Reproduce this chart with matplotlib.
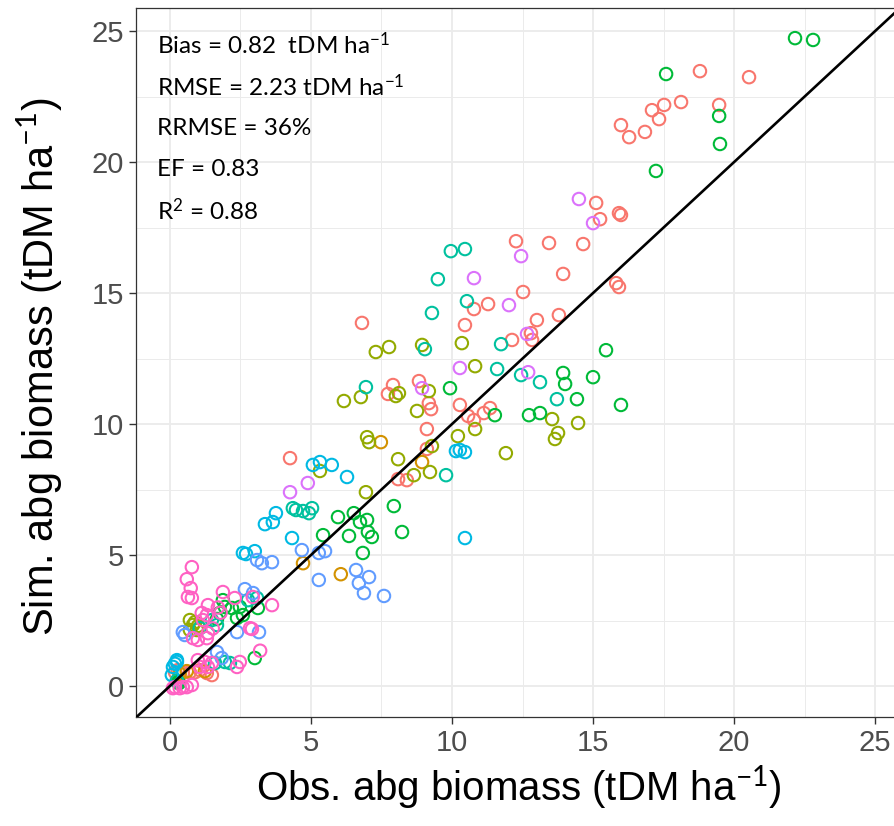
import matplotlib
matplotlib.use("Agg")
import matplotlib.pyplot as plt
from matplotlib.ticker import MultipleLocator

# observed / simulated biomass per group (tDM/ha)
red_x = [18.79, 20.53, 18.12, 17.52, 17.09, 17.34, 15.99, 16.28, 16.84, 19.47, 15.11, 15.25, 15.92, 15.99,
         12.27, 13.44, 14.65, 13.94, 15.82, 15.92, 12.52, 11.28, 10.78, 10.46, 13.01, 13.79, 12.80, 12.84, 12.13,
         8.83, 9.18, 9.26, 10.28, 10.57, 10.78, 11.13, 11.35, 9.11, 9.11, 7.91, 7.73, 6.81, 4.26, 8.09, 8.40,
         0.18, 0.28, 0.46, 0.71, 0.89, 1.06, 1.31, 1.49]
red_y = [23.47, 23.24, 22.29, 22.18, 21.98, 21.64, 21.41, 20.95, 21.15, 22.18, 18.44, 17.82, 18.05, 17.98,
         16.98, 16.91, 16.87, 15.73, 15.38, 15.23, 15.04, 14.58, 14.39, 13.78, 13.97, 14.16, 13.47, 13.21, 13.21,
         11.64, 10.80, 10.57, 10.73, 10.31, 10.15, 10.42, 10.61, 9.81, 9.05, 11.49, 11.15, 13.86, 8.70, 7.90, 7.86,
         0.53, 0.61, 0.50, 0.53, 0.53, 0.61, 0.50, 0.42]

orange_x = [8.94, 7.48, 4.72, 6.06, 0.35, 0.60, 1.24]
orange_y = [8.55, 9.31, 4.69, 4.27, 0.46, 0.57, 0.57]

olive_x = [8.94, 10.35, 10.82, 9.18, 8.76, 13.55, 14.47, 13.76, 13.65, 10.82, 10.21, 9.29, 11.91, 9.22, 8.65,
           7.30, 7.77, 8.01, 8.12, 6.17, 6.77, 6.99, 7.06, 8.09, 5.32, 6.95,
           0.71, 0.82, 0.71, 0.96, 0.89, 1.00]
olive_y = [13.02, 13.09, 12.21, 11.26, 10.50, 10.19, 10.04, 9.66, 9.43, 9.81, 9.54, 9.16, 8.89, 8.17, 8.05,
           12.75, 12.94, 11.07, 11.18, 10.88, 11.03, 9.50, 9.31, 8.66, 8.21, 7.40,
           2.52, 2.33, 2.14, 2.14, 2.44, 2.30]

green_x = [17.59, 19.47, 19.50, 17.23, 22.16, 22.80, 15.46, 13.94, 14.01, 15.00, 14.43, 15.99, 9.93, 11.52, 12.73, 13.12,
           7.94, 8.23, 5.96, 6.52, 6.74, 6.99, 5.43, 6.35, 7.02, 7.16, 6.84,
           1.88, 1.95, 1.77, 1.67, 2.20, 2.48, 2.38, 2.59, 3.12, 3.01, 0.28, 0.32]
green_y = [23.36, 21.76, 20.69, 19.66, 24.73, 24.66, 12.82, 11.95, 11.53, 11.79, 10.95, 10.73, 11.37, 10.34, 10.34, 10.42,
           6.87, 5.88, 6.45, 6.60, 6.26, 6.34, 5.76, 5.73, 5.88, 5.69, 5.08,
           3.28, 3.02, 2.79, 2.56, 2.98, 3.02, 2.60, 2.71, 2.98, 1.07, 0.15, 0.11]

teal_x = [9.96, 10.46, 9.50, 10.53, 9.29, 9.04, 11.74, 11.60, 12.45, 13.12, 13.72, 9.79, 6.95,
          4.36, 4.47, 4.72, 4.93, 5.04,
          1.60, 1.95, 2.13, 1.49, 1.67, 1.06, 2.77, 3.09, 0.25]
teal_y = [16.60, 16.68, 15.53, 14.69, 14.24, 12.86, 13.05, 12.10, 11.87, 11.60, 10.95, 8.05, 11.41,
          6.79, 6.72, 6.68, 6.60, 6.79,
          0.88, 0.92, 0.88, 2.52, 2.33, 2.21, 3.28, 3.36, 0.21]

cyan_x = [10.14, 10.28, 10.46, 5.07, 5.32, 5.74, 6.28, 4.33, 3.76, 3.37, 3.65, 10.46, 2.59, 2.70, 3.01,
          0.25, 0.11, 0.25, 0.07, 0.18]
cyan_y = [8.97, 9.01, 8.93, 8.44, 8.55, 8.44, 7.98, 5.65, 6.60, 6.18, 6.26, 5.65, 5.08, 5.04, 5.15,
          0.99, 0.73, 0.92, 0.42, 0.85]

blue_x = [4.68, 5.28, 5.50, 5.28, 6.60, 6.70, 7.06, 6.88, 7.59, 3.09, 3.26, 3.62,
          2.66, 2.95, 0.46, 0.53, 3.16, 2.38, 1.67, 1.84]
blue_y = [5.19, 5.08, 5.15, 4.05, 4.43, 3.93, 4.16, 3.55, 3.44, 4.81, 4.69, 4.73,
          3.70, 3.55, 2.06, 1.95, 2.06, 2.06, 1.30, 1.07]

purple_x = [14.50, 15.00, 12.45, 10.78, 12.02, 12.66, 10.28, 12.70, 8.94, 4.89, 4.26]
purple_y = [18.59, 17.67, 16.41, 15.57, 14.54, 13.44, 12.14, 11.98, 11.37, 7.75, 7.40]

pink_x = [0.78, 0.60, 0.74, 0.64, 0.78, 1.35, 1.88, 2.30, 2.94, 3.62, 1.13, 1.31, 1.17, 0.82, 1.31, 1.35, 0.99,
          2.84, 2.91, 3.20, 0.99, 1.24, 1.06, 2.38, 2.48, 1.35, 1.49, 0.60, 0.78, 0.11, 0.35, 0.18, 0.46,
          1.70, 1.80, 1.52]
pink_y = [4.54, 4.08, 3.74, 3.40, 3.36, 3.09, 3.59, 3.36, 3.40, 3.09, 2.79, 2.71, 2.52, 1.83, 1.83, 2.02, 1.76,
          2.21, 2.18, 1.35, 0.99, 0.92, 0.73, 0.73, 0.92, 0.73, 0.88, -0.04, 0.04, -0.08, -0.08, -0.04, -0.04,
          3.00, 2.80, 2.20]

groups = [
    (red_x, red_y, '#F8766D'),
    (orange_x, orange_y, '#D39200'),
    (olive_x, olive_y, '#93AA00'),
    (green_x, green_y, '#00BA38'),
    (teal_x, teal_y, '#00C19F'),
    (cyan_x, cyan_y, '#00B9E3'),
    (blue_x, blue_y, '#619CFF'),
    (purple_x, purple_y, '#DB72FB'),
    (pink_x, pink_y, '#FF61C3'),
]

stats_lines = [
    r'Bias = 0.82  tDM ha$^{-1}$',
    r'RMSE = 2.23 tDM ha$^{-1}$',
    'RRMSE = 36%',
    'EF = 0.83',
    r'R$^{2}$ = 0.88',
]

plt.rcParams['mathtext.fontset'] = 'custom'
plt.rcParams['mathtext.rm'] = 'Lato'
plt.rcParams['mathtext.it'] = 'Lato:italic'

fig = plt.figure(figsize=(8.95, 8.26), dpi=100)
ax = fig.add_axes([136 / 895, 109 / 826, 773 / 895, 709 / 826])

for gx, gy, col in groups:
    ax.scatter(gx, gy, s=80, facecolors='none', edgecolors=col, linewidths=1.5, zorder=3)

ax.axline((0, 0), slope=1, color='black', lw=1.9, zorder=4)

ax.set_xlim(-1.2, 26.2)
ax.set_ylim(-1.18, 25.88)
ax.xaxis.set_major_locator(MultipleLocator(5))
ax.yaxis.set_major_locator(MultipleLocator(5))
ax.xaxis.set_minor_locator(MultipleLocator(2.5))
ax.yaxis.set_minor_locator(MultipleLocator(2.5))
ax.grid(which='major', color='#EBEBEB', lw=1.3, zorder=0)
ax.grid(which='minor', color='#EBEBEB', lw=0.7, zorder=0)
ax.set_axisbelow(True)
for s in ax.spines.values():
    s.set_color('#333333')
    s.set_linewidth(0.9)

lab_font = 'Liberation Sans'
ax.tick_params(which='major', direction='out', length=5, width=1, color='#333333',
               labelcolor='#4D4D4D', labelsize=21)
ax.tick_params(which='minor', length=0)
for t in ax.get_xticklabels() + ax.get_yticklabels():
    t.set_fontfamily(lab_font)

ax.set_xlabel(r'Obs. abg biomass (tDM ha$^{-1}$)', fontsize=29, family=lab_font, va='center')
ax.set_ylabel(r'Sim. abg biomass (tDM ha$^{-1}$)', fontsize=30, family=lab_font, va='center')
ax.xaxis.set_label_coords(0.495, -(788 - 717) / 709)
ax.yaxis.set_label_coords((40 - 136) / 773, 0.494)

for i, line in enumerate(stats_lines):
    py = 45 + i * 41.5
    ax.text(0.027, 1 - (py - 8) / 709, line, transform=ax.transAxes, fontsize=17.5,
            family='Lato', va='center', ha='left', zorder=5)

fig.savefig('out.png', dpi=100)
